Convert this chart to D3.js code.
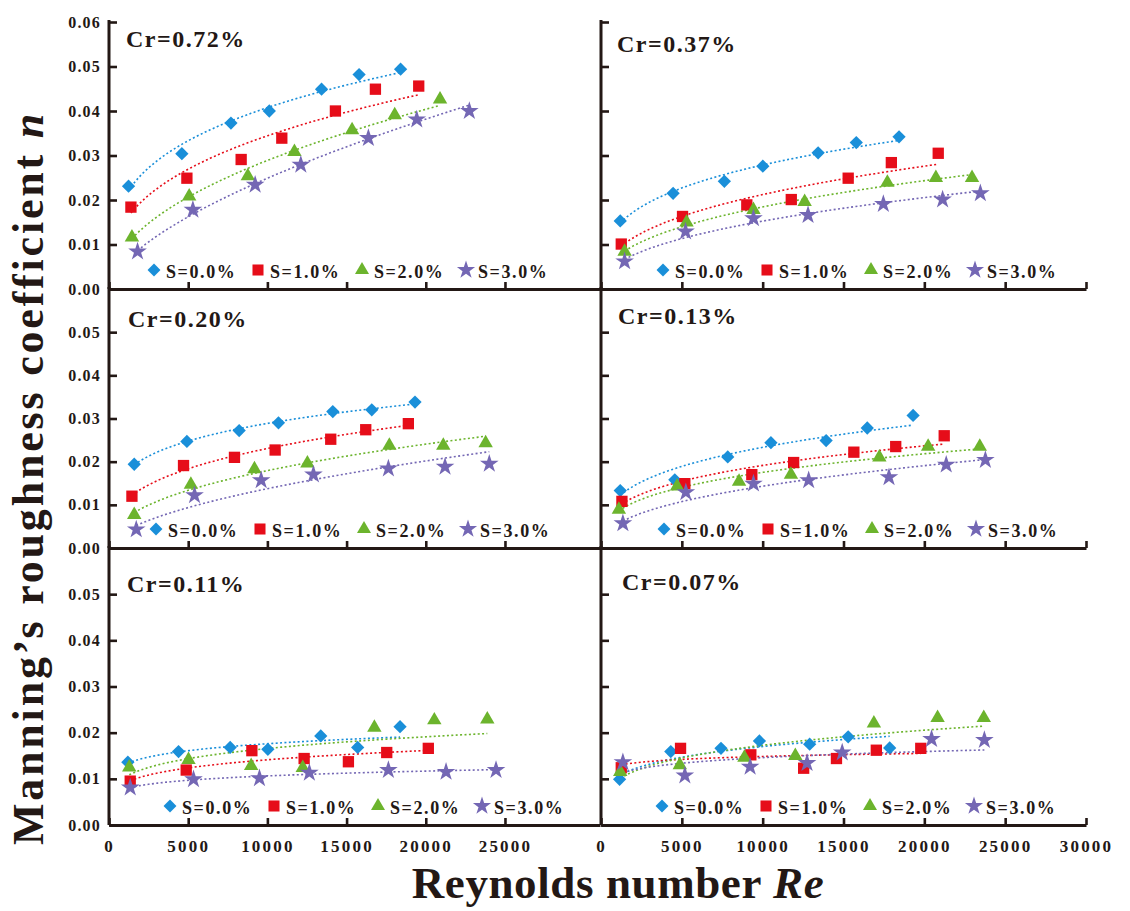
<!DOCTYPE html>
<html>
<head>
<meta charset="utf-8">
<script src="https://cdn.jsdelivr.net/npm/d3@7"></script>
<style>
  html, body { margin: 0; padding: 0; background: #fff; }
  svg text { font-family: "Liberation Serif", "Times New Roman", serif; font-weight: bold; fill: #231815; }
</style>
</head>
<body>
<svg id="chart" width="1130" height="911"></svg>
<script>
// ---- Data -------------------------------------------------------------
const slopeLabels = ["S=0.0%", "S=1.0%", "S=2.0%", "S=3.0%"];
const crLabels = ["Cr=0.72%", "Cr=0.37%", "Cr=0.20%", "Cr=0.13%", "Cr=0.11%", "Cr=0.07%"];
const reTicksLeft = [0, 5000, 10000, 15000, 20000, 25000];
const reTicksRight = [0, 5000, 10000, 15000, 20000, 25000, 30000];
const nTicks = [0, 0.01, 0.02, 0.03, 0.04, 0.05, 0.06];

// Reynolds number (one row per slope S = 0, 1, 2, 3 %) and Manning's n
const re072 = [[1233, 4600, 7700, 10120, 13420, 15790, 18410],
               [1384, 4918, 8344, 10910, 14295, 16820, 19555],
               [1448, 5063, 8766, 11707, 15347, 18040, 20900],
               [1802, 5296, 9227, 12110, 16377, 19430, 22750]];
const n072 = [[0.0231, 0.0304, 0.0373, 0.0400, 0.0449, 0.0482, 0.0494],
              [0.0184, 0.0249, 0.0291, 0.0339, 0.0400, 0.0449, 0.0456],
              [0.0116, 0.0208, 0.0254, 0.0308, 0.0357, 0.0391, 0.0426],
              [0.0084, 0.0178, 0.0234, 0.0279, 0.0339, 0.0381, 0.0400]];

const re037 = [[1190, 4460, 7630, 10010, 13430, 15790, 18435],
               [1254, 5043, 9019, 11770, 15290, 17960, 20860],
               [1460, 5292, 9430, 12597, 17714, 20714, 22950],
               [1460, 5230, 9430, 12807, 17465, 21130, 23466]];
const n037 = [[0.0153, 0.0215, 0.0242, 0.0276, 0.0306, 0.0329, 0.0342],
              [0.0101, 0.0163, 0.0189, 0.0201, 0.0249, 0.0284, 0.0305],
              [0.0084, 0.0150, 0.0178, 0.0196, 0.0239, 0.0250, 0.0250],
              [0.0062, 0.0129, 0.0159, 0.0166, 0.0191, 0.0201, 0.0215]];

const re020 = [[1593, 4918, 8218, 10700, 14130, 16590, 19320],
               [1448, 4705, 7922, 10490, 14000, 16210, 18900],
               [1593, 5170, 9183, 12527, 17700, 21107, 23780],
               [1720, 5400, 9606, 12907, 17640, 21215, 24010]];
const n020 = [[0.0194, 0.0247, 0.0272, 0.0290, 0.0316, 0.0320, 0.0338],
              [0.0120, 0.0191, 0.0210, 0.0227, 0.0252, 0.0274, 0.0288],
              [0.0077, 0.0147, 0.0183, 0.0196, 0.0237, 0.0237, 0.0243],
              [0.0043, 0.0122, 0.0157, 0.0170, 0.0184, 0.0188, 0.0195]];

const re013 = [[1190, 4565, 7840, 10510, 13925, 16470, 19305],
               [1294, 5186, 9329, 11915, 15640, 18230, 21230],
               [1106, 4708, 8540, 11750, 17218, 20236, 23430],
               [1354, 5248, 9430, 12845, 17814, 21354, 23776]];
const n013 = [[0.0133, 0.0158, 0.0211, 0.0244, 0.0249, 0.0278, 0.0307],
              [0.0108, 0.0149, 0.0170, 0.0198, 0.0222, 0.0235, 0.0260],
              [0.0089, 0.0143, 0.0154, 0.0170, 0.0210, 0.0235, 0.0235],
              [0.0057, 0.0129, 0.0149, 0.0157, 0.0164, 0.0193, 0.0204]];

const re011 = [[1190, 4390, 7650, 10030, 13370, 15700, 18375],
               [1340, 4875, 9020, 12320, 15115, 17535, 20160],
               [1278, 5020, 8975, 12235, 16755, 20540, 23885],
               [1340, 5335, 9500, 12650, 17640, 21280, 24435]];
const n011 = [[0.0136, 0.0159, 0.0168, 0.0164, 0.0193, 0.0168, 0.0213],
              [0.0095, 0.0119, 0.0161, 0.0144, 0.0137, 0.0157, 0.0166],
              [0.0125, 0.0141, 0.0128, 0.0124, 0.0211, 0.0227, 0.0229],
              [0.0081, 0.0099, 0.0101, 0.0113, 0.0119, 0.0115, 0.0119]];

const re007 = [[1150, 4317, 7422, 9800, 12907, 15290, 17857],
               [1254, 4920, 9267, 12535, 14565, 17030, 19780],
               [1190, 4876, 8870, 12020, 16880, 20820, 23677],
               [1354, 5186, 9224, 12745, 14920, 20447, 23714]];
const n007 = [[0.0099, 0.0159, 0.0166, 0.0182, 0.0175, 0.0191, 0.0167],
              [0.0124, 0.0166, 0.0152, 0.0123, 0.0144, 0.0162, 0.0166],
              [0.0115, 0.0130, 0.0146, 0.0150, 0.0220, 0.0232, 0.0232],
              [0.0136, 0.0107, 0.0126, 0.0134, 0.0157, 0.0186, 0.0184]];

// ---- Layout -----------------------------------------------------------
const ink = "#231815";
const colors = ["#1a8fd9", "#e60d19", "#6cb42d", "#7467b4"];
const shapes = [
  { type: d3.symbolSquare,   size: 88,  rotate: 45 },
  { type: d3.symbolSquare,   size: 128, rotate: 0 },
  { type: d3.symbolTriangle, size: 90,  rotate: 0 },
  { type: d3.symbolStar,     size: 108, rotate: 0 }
];

const cols = [
  { x0: 109, x1: 600,  max: 31000, ticks: reTicksLeft },
  { x0: 601, x1: 1086, max: 30000, ticks: reTicksRight }
];
const rows = [
  { top: 22,  bottom: 289 },
  { top: 289, bottom: 548 },
  { top: 548, bottom: 825 }
];
const panels = [
  { row: 0, col: 0, re: re072, n: n072, cr: crLabels[0], lab: [126, 47],  legX: 154 },
  { row: 0, col: 1, re: re037, n: n037, cr: crLabels[1], lab: [617, 52],  legX: 663 },
  { row: 1, col: 0, re: re020, n: n020, cr: crLabels[2], lab: [128, 327], legX: 156 },
  { row: 1, col: 1, re: re013, n: n013, cr: crLabels[3], lab: [618, 324], legX: 664 },
  { row: 2, col: 0, re: re011, n: n011, cr: crLabels[4], lab: [127, 592], legX: 170 },
  { row: 2, col: 1, re: re007, n: n007, cr: crLabels[5], lab: [622, 590], legX: 662 }
];

const svg = d3.select("#chart");

// least-squares power-law fit n = a * Re^b, used for the dotted trend lines
function powerFit(xs, ys) {
  const lx = xs.map(Math.log), ly = ys.map(Math.log);
  const mx = d3.mean(lx), my = d3.mean(ly);
  const b = d3.sum(lx, (v, i) => (v - mx) * (ly[i] - my)) / d3.sum(lx, v => (v - mx) * (v - mx));
  const a = Math.exp(my - b * mx);
  return x => a * Math.pow(x, b);
}

panels.forEach(p => {
  const c = cols[p.col], r = rows[p.row];
  const x = d3.scaleLinear().domain([0, c.max]).range([c.x0, c.x1]);
  const y = d3.scaleLinear().domain([0, 0.06]).range([r.bottom, r.top]);
  const g = svg.append("g");

  // trend lines
  p.re.forEach((xs, s) => {
    const f = powerFit(xs, p.n[s]);
    const lo = d3.min(xs), hi = d3.max(xs);
    const samples = d3.range(0, 41).map(i => lo + (hi - lo) * i / 40);
    g.append("path")
      .attr("d", d3.line().x(v => x(v)).y(v => y(f(v)))(samples))
      .attr("fill", "none")
      .attr("stroke", colors[s])
      .attr("stroke-width", 1.6)
      .attr("stroke-dasharray", "2,2.4");
  });

  // markers
  p.re.forEach((xs, s) => {
    const sym = d3.symbol().type(shapes[s].type).size(shapes[s].size);
    g.selectAll(null).data(xs.map((v, i) => [v, p.n[s][i]])).join("path")
      .attr("d", sym)
      .attr("transform", d => `translate(${x(d[0])},${y(d[1])}) rotate(${shapes[s].rotate})`)
      .attr("fill", colors[s]);
  });

  // legend
  slopeLabels.forEach((t, s) => {
    const lx = p.legX + s * 104;
    const ly = r.bottom - 19;
    g.append("path")
      .attr("d", d3.symbol().type(shapes[s].type).size(shapes[s].size * 0.95)())
      .attr("transform", `translate(${lx},${ly}) rotate(${shapes[s].rotate})`)
      .attr("fill", colors[s]);
    g.append("text")
      .attr("x", lx + 12)
      .attr("y", r.bottom - 11)
      .attr("font-size", 18)
      .attr("letter-spacing", 1.6)
      .text(t);
  });

  // concentration label
  g.append("text")
    .attr("x", p.lab[0]).attr("y", p.lab[1])
    .attr("font-size", 24)
    .attr("letter-spacing", 1.5)
    .text(p.cr);

  // axes
  const yVals = p.row === 0 ? nTicks : nTicks.slice(0, 6);
  const yAxis = d3.axisLeft(y).tickValues(yVals).tickSize(-8).tickSizeOuter(0)
    .tickPadding(p.col === 0 ? 8 : 0)
    .tickFormat(p.col === 0 ? d3.format(".2f") : "");
  const ya = g.append("g").attr("transform", `translate(${c.x0},0)`).call(yAxis);
  ya.select(".domain").attr("d", `M0,${r.bottom}V${r.top - 2}`);

  const xAxis = d3.axisBottom(x).tickValues(c.ticks).tickSize(-7).tickSizeOuter(0)
    .tickPadding(15)
    .tickFormat(p.row === 2 ? d3.format("d") : "");
  const xa = g.append("g").attr("transform", `translate(0,${r.bottom})`).call(xAxis);

  [ya, xa].forEach(a => {
    a.select(".domain").attr("stroke", ink).attr("stroke-width", 3);
    a.selectAll(".tick line").attr("stroke", ink).attr("stroke-width", 2.6);
    a.selectAll(".tick text").attr("fill", ink)
      .style("font-family", '"Liberation Serif","Times New Roman",serif')
      .style("font-weight", "bold");
  });
  ya.selectAll(".tick text").attr("font-size", 16).attr("letter-spacing", 1.2);
  xa.selectAll(".tick text").attr("font-size", 17).attr("letter-spacing", 2.2);
});

// axis titles
svg.append("text")
  .attr("transform", "translate(43,478) rotate(-90)")
  .attr("text-anchor", "middle")
  .attr("font-size", 44)
  .attr("letter-spacing", 2.8)
  .call(t => {
    t.append("tspan").text("Manning’s roughness coefficient ");
    t.append("tspan").attr("font-style", "italic").text("n");
  });

svg.append("text")
  .attr("x", 618).attr("y", 898)
  .attr("text-anchor", "middle")
  .attr("font-size", 45)
  .attr("letter-spacing", 0.6)
  .call(t => {
    t.append("tspan").text("Reynolds number ");
    t.append("tspan").attr("font-style", "italic").text("Re");
  });
</script>
</body>
</html>
